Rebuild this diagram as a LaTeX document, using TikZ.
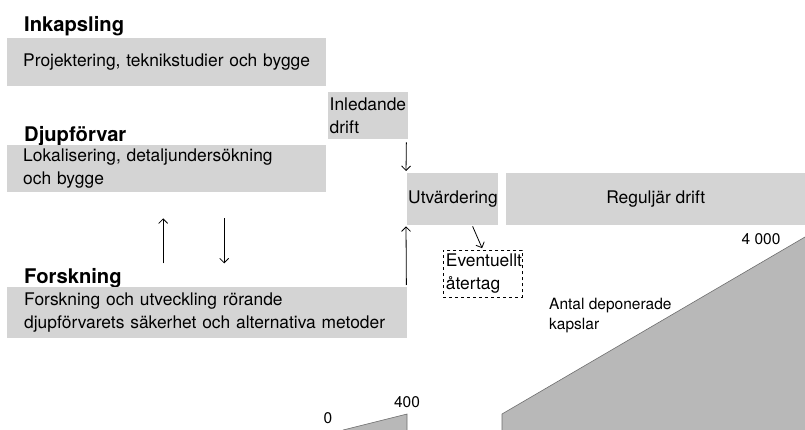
\documentclass[tikz,border=0pt]{standalone}
\usepackage{fontspec}
\setmainfont{TeX Gyre Heros}
\usetikzlibrary{arrows.meta, positioning}
\definecolor{boxgray}{RGB}{212,212,212}
\definecolor{wedgegray}{RGB}{184,184,184}
\definecolor{edgegray}{RGB}{110,110,110}
\newcommand{\bodyfont}{\fontsize{17.4}{23}\selectfont}
\newcommand{\headfont}{\fontsize{20.2}{23}\selectfont\bfseries}
\newcommand{\smallfont}{\fontsize{15.5}{19.5}\selectfont}
\tikzset{>={Straight Barb[length=4.5pt,width=9pt]}}
\tikzset{
  phase/.style={rectangle, fill=boxgray, anchor=north west, align=left, inner ysep=0pt, font=\bodyfont},
  head/.style={anchor=base west, inner sep=0pt, font=\headfont},
  arrow/.style={->, line width=0.8pt},
  wedge/.style={fill=wedgegray, draw=edgegray, line width=0.6pt},
  axislabel/.style={inner sep=0pt, font=\smallfont}
}

\begin{document}
\begin{tikzpicture}[x=1pt, y=-1pt]
\useasboundingbox (0,0) rectangle (805,430);

% Inkapsling
\node[head] (inktitle) at (24,32) {Inkapsling};
\node[phase, minimum height=48pt, text width=287pt, inner xsep=16pt] (ink) at (7,38)
  {Projektering, teknikstudier och bygge};

\node[phase, minimum height=47pt, text width=77pt, inner xsep=1.5pt] (inled) at (328,92)
  {Inledande\\drift};

% Djupforvar
\node[head] (djuptitle) at (24,142) {Djupförvar};
\node[phase, minimum height=47pt, text width=287pt, inner xsep=16pt] (djup) at (7,145)
  {Lokalisering, detaljundersökning\\och bygge};

% Drift
\node[phase, minimum height=52pt, text width=89pt, inner xsep=1pt] (utv) at (407,173)
  {Utvärdering};
\node[phase, minimum height=52pt, minimum width=299pt, align=center] (regdrift) at (506,173)
  {Reguljär drift};
\node[phase, fill=none, draw, dashed, thick, minimum height=47pt, text width=74pt, inner xsep=2.5pt] (event) at (443,250)
  {Eventuellt\\återtag};

% Forskning
\node[head] (forsktitle) at (24,283) {Forskning};
\node[phase, minimum height=51pt, text width=366pt, inner xsep=17pt] (forsk) at (7,287)
  {Forskning och utveckling rörande\\djupförvarets säkerhet och alternativa metoder};

% pilar
\draw[arrow, shorten <=3pt, shorten >=2pt] ([xshift=-2pt]inled.south east) -- ([xshift=-1pt]utv.north west);
\draw[arrow, shorten <=2pt, shorten >=1pt] ([xshift=-1pt]forsk.north east) -- ([xshift=-1pt]utv.south west);
\draw[arrow, shorten <=1pt, shorten >=2pt] ([xshift=19.5pt]utv.south) -- (event.north);
\draw[arrow] ([xshift=-3.5pt, yshift=-71pt]djup.south) -- ([xshift=-3.5pt, yshift=-26pt]djup.south);
\draw[arrow] ([xshift=57.5pt, yshift=-26pt]djup.south) -- ([xshift=57.5pt, yshift=-71pt]djup.south);

% antal kapslar
\fill[wedgegray] (343,430) -- (407,414) -- (407,430) -- cycle;
\draw[edgegray, line width=0.6pt] (343,430) -- (407,414) -- (407,430);
\fill[wedgegray] (502,430) -- (502,414) -- (805,237) -- (805,430) -- cycle;
\draw[edgegray, line width=0.6pt] (502,430) -- (502,414) -- (805,237);

\node[axislabel] (nollabel) at (328,418) {0};
\node[axislabel] (startlabel) at (407,402) {400};
\node[axislabel] (slutlabel) at (761,239) {4 000};
\node[axislabel, anchor=north west, align=left] (antal) at (549,298) {Antal deponerade\\kapslar};

\end{tikzpicture}
\end{document}
